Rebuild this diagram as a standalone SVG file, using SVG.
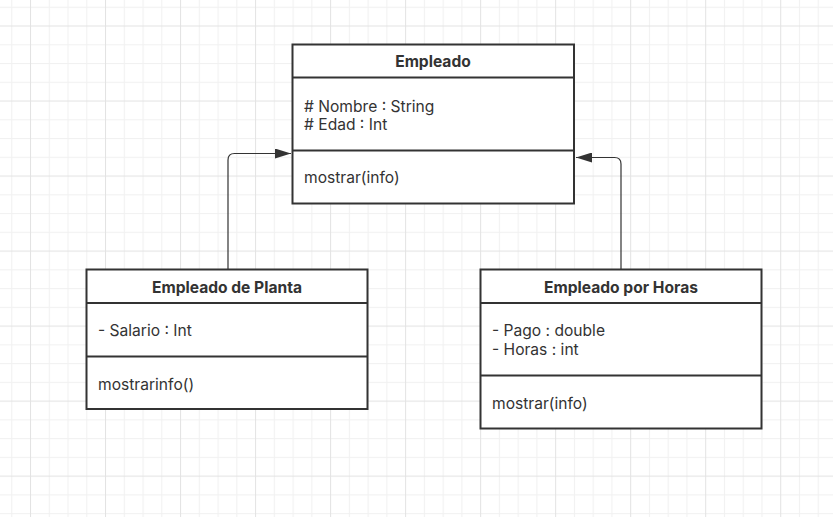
<svg xmlns="http://www.w3.org/2000/svg" width="833" height="517" viewBox="0 0 833 517">
<style>
.box{fill:#fff;stroke:#333;stroke-width:2}
.div{stroke:#333;stroke-width:2}
.t{font-family:Inter,"Noto Sans","Liberation Sans",sans-serif;font-size:15.6px;fill:#333}
.h{font-weight:bold;text-anchor:middle}
.conn{fill:none;stroke:#333;stroke-width:1.2}
</style>
<defs>
<pattern id="grid" patternUnits="userSpaceOnUse" x="30" y="25.5" width="75.02" height="75.02">
<rect x="0" y="0" width="75.02" height="75.02" fill="#fff"/>
<g fill="#f1f1f1">
<rect x="18.755" y="0" width="1" height="75.02"/>
<rect x="37.51" y="0" width="1" height="75.02"/>
<rect x="56.265" y="0" width="1" height="75.02"/>
<rect x="0" y="18.755" width="75.02" height="1"/>
<rect x="0" y="37.51" width="75.02" height="1"/>
<rect x="0" y="56.265" width="75.02" height="1"/>
</g>
<g fill="#e3e3e3">
<rect x="0" y="0" width="1" height="75.02"/>
<rect x="0" y="0" width="75.02" height="1"/>
</g>
</pattern>
<marker id="arr" viewBox="0 0 16 10" refX="16" refY="5" markerWidth="16" markerHeight="10" markerUnits="userSpaceOnUse" orient="auto">
<path d="M0,0 L16,5 L0,10 Z" fill="#333"/>
</marker>
</defs>
<rect width="833" height="517" fill="url(#grid)"/>
<g id="connectors">
<path class="conn" d="M228,269 V160 Q228,153.5 234.5,153.5 H291" marker-end="url(#arr)"/>
<path class="conn" d="M621,269 V164 Q621,157.5 614.5,157.5 H576" marker-end="url(#arr)"/>
</g>
<g id="empleado">
<rect class="box" x="292.5" y="44.5" width="281.5" height="159"/>
<line class="div" x1="292.5" y1="77.5" x2="574" y2="77.5"/>
<line class="div" x1="292.5" y1="150.5" x2="574" y2="150.5"/>
<text class="t h" x="433" y="67">Empleado</text>
<text class="t" x="304" y="111.5"># Nombre : String</text>
<text class="t" x="304" y="130"># Edad : Int</text>
<text class="t" x="304" y="183">mostrar(info)</text>
</g>
<g id="empleado-planta">
<rect class="box" x="86.5" y="269.5" width="281" height="139.5"/>
<line class="div" x1="86.5" y1="303" x2="367.5" y2="303"/>
<line class="div" x1="86.5" y1="356.5" x2="367.5" y2="356.5"/>
<text class="t h" x="227" y="292.5">Empleado de Planta</text>
<text class="t" x="98" y="336">- Salario : Int</text>
<text class="t" x="98" y="389.5">mostrarinfo()</text>
</g>
<g id="empleado-horas">
<rect class="box" x="480.5" y="269.5" width="281" height="159"/>
<line class="div" x1="480.5" y1="303" x2="761.5" y2="303"/>
<line class="div" x1="480.5" y1="375.5" x2="761.5" y2="375.5"/>
<text class="t h" x="621" y="292.5">Empleado por Horas</text>
<text class="t" x="492" y="336">- Pago : double</text>
<text class="t" x="492" y="354.5">- Horas : int</text>
<text class="t" x="492" y="408.5">mostrar(info)</text>
</g>
</svg>
